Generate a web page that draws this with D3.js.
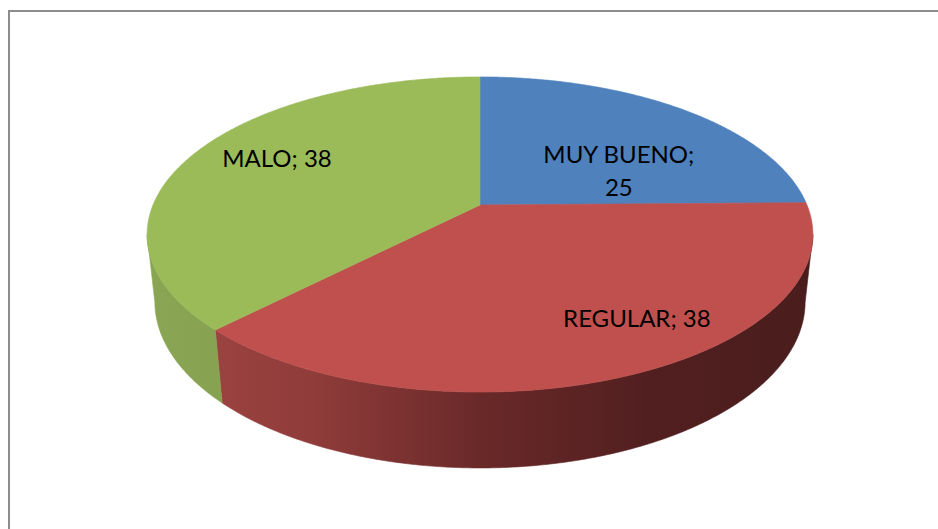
<!DOCTYPE html>
<html>
<head>
  <meta charset="utf-8">
  <script src="https://d3js.org/d3.v7.min.js"></script>
  <style>
    body { margin: 0; background: #fff; }
    .slice-label {
      fill: #000;
      font-family: Lato, "Open Sans", sans-serif;
      font-size: 24px;
      text-anchor: middle;
    }
  </style>
</head>
<body>
  <div id="chart"></div>
  <script>
    // data
    var categories = ["MUY BUENO", "REGULAR", "MALO"];
    var values = [25, 38, 38];
    var topColors = ["#4F81BD", "#C0504D", "#9BBB59"];
    // side shading, left -> right
    var sideColors = [
      ["#45709f", "#2c4a6d"],
      ["#a24744", "#8f3c3a", "#6a2929", "#521f20", "#4a1d1d"],
      ["#8aa553", "#7d9746", "#6f8a3e"]
    ];
    // where each label sits inside its slice: [fraction of the sweep, radius]
    var labelSpot = [[0.70, 0.50], [0.43, 0.78], [0.53, 0.735]];

    var width = 938, height = 529;

    var svg = d3.select("#chart").append("svg")
      .attr("width", width)
      .attr("height", height);

    // chart area border (top and left edges only show)
    svg.append("path")
      .attr("d", "M9,529V11H938")
      .attr("fill", "none")
      .attr("stroke", "#8c8c8c")
      .attr("stroke-width", 2);

    // 3d projection of the pie disc
    var cx = 480, cy = 205;   // where the slices meet
    var S = 327;              // radius in px
    var tilt = Math.asin(0.465);
    var D = 4.73;             // camera distance (radius units)
    var T = 0.234;            // thickness (radius units)
    var sinT = Math.sin(tilt), cosT = Math.cos(tilt);

    function proj(theta, r, h) {
      var u = r * Math.sin(theta),
          w = -r * Math.cos(theta),
          Y = h * cosT - w * sinT,
          d = w * cosT + h * sinT,
          s = D / (D - d);
      return [cx + S * u * s, cy - S * Y * s];
    }

    var pie = d3.pie().sort(null).startAngle(0).endAngle(2 * Math.PI);
    var arcs = pie(values);

    var line = d3.line();
    var step = Math.PI / 360;

    function arcPoints(a0, a1, r, h) {
      var pts = [], n = Math.max(2, Math.ceil((a1 - a0) / step));
      for (var i = 0; i <= n; i++) pts.push(proj(a0 + (a1 - a0) * i / n, r, h));
      return pts;
    }

    // side silhouette
    var sideStart = Math.acos(-cosT / D), sideEnd = 2 * Math.PI - sideStart;
    var xLeft = proj(sideEnd, 1, 0)[0], xRight = proj(sideStart, 1, 0)[0];

    var defs = svg.append("defs");
    sideColors.forEach(function (cols, i) {
      var g = defs.append("linearGradient")
        .attr("id", "side" + i)
        .attr("gradientUnits", "userSpaceOnUse")
        .attr("x1", xLeft).attr("x2", xRight)
        .attr("y1", 0).attr("y2", 0);
      var sc = d3.scaleLinear().domain([0, cols.length - 1]).range([0, 1]);
      cols.forEach(function (c, j) {
        g.append("stop").attr("offset", sc(j)).attr("stop-color", c);
      });
    });

    // sides
    var sides = svg.append("g");
    arcs.forEach(function (a, i) {
      var a0 = Math.max(a.startAngle, sideStart),
          a1 = Math.min(a.endAngle, sideEnd);
      if (a1 <= a0) return;
      var pts = arcPoints(a0, a1, 1, 0).concat(arcPoints(a0, a1, 1, -T).reverse());
      sides.append("path")
        .attr("d", line(pts) + "Z")
        .attr("fill", "url(#side" + i + ")")
        .attr("stroke", "url(#side" + i + ")")
        .attr("stroke-width", 0.6);
    });

    // top faces
    var tops = svg.append("g");
    arcs.forEach(function (a, i) {
      var pts = [proj(0, 0, 0)].concat(arcPoints(a.startAngle, a.endAngle, 1, 0));
      tops.append("path")
        .attr("d", line(pts) + "Z")
        .attr("fill", topColors[i])
        .attr("stroke", topColors[i])
        .attr("stroke-width", 0.6);
    });

    // labels
    var lineH = 33, capH = 17.2, maxW = 160;
    var labels = svg.append("g");
    arcs.forEach(function (a, i) {
      var spot = labelSpot[i];
      var ang = a.startAngle + (a.endAngle - a.startAngle) * spot[0];
      var p = proj(ang, spot[1], 0);
      var text = labels.append("text").attr("class", "slice-label");
      var words = (categories[i] + "; " + values[i]).split(" ");
      var lines = [], cur = [];
      var probe = text.append("tspan");
      words.forEach(function (wd) {
        var tryLine = cur.concat([wd]).join(" ");
        probe.text(tryLine);
        if (cur.length && probe.node().getComputedTextLength() > maxW) {
          lines.push(cur.join(" "));
          cur = [wd];
        } else {
          cur.push(wd);
        }
      });
      lines.push(cur.join(" "));
      probe.remove();
      var y0 = p[1] - (lines.length - 1) * lineH / 2 + capH / 2;
      lines.forEach(function (l, k) {
        text.append("tspan")
          .attr("x", p[0])
          .attr("y", y0 + k * lineH)
          .text(l);
      });
    });
  </script>
</body>
</html>
